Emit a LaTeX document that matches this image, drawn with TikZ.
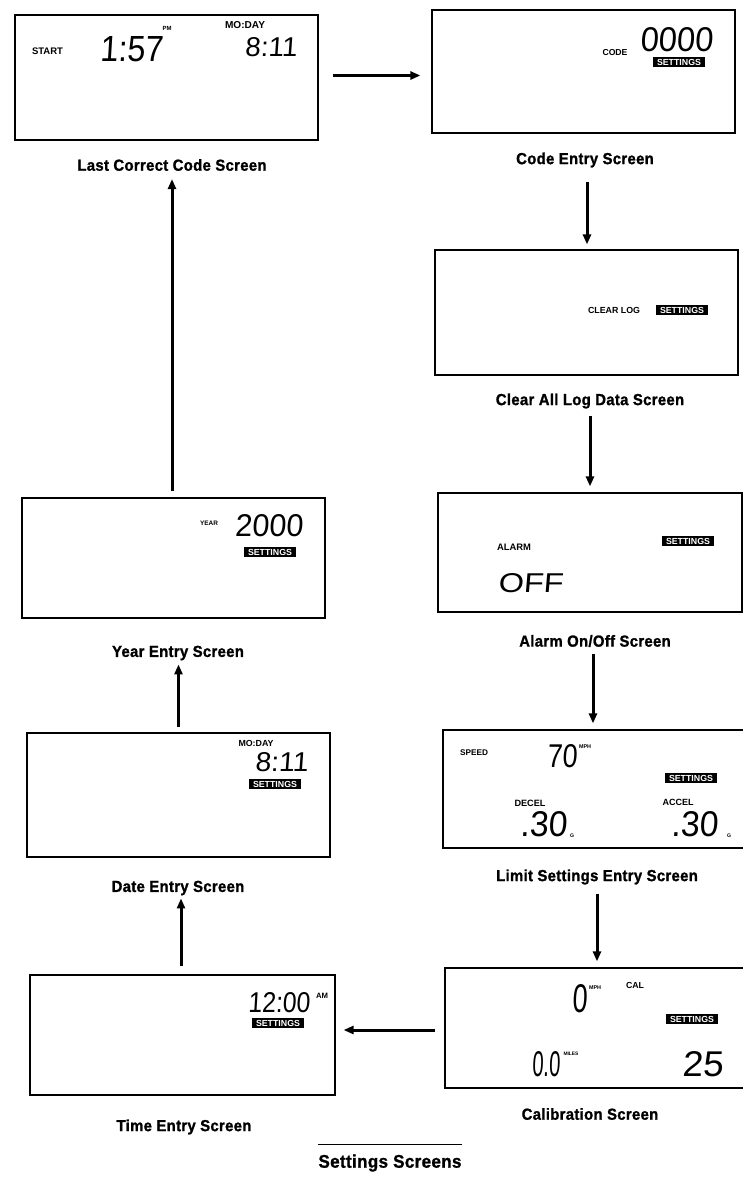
\documentclass[tikz,border=0pt]{standalone}
\usepackage{graphicx}
\usepackage{fontspec}
\setmainfont{Liberation Sans}
\newfontfamily\capfont[FakeStretch=0.93,FakeBold=1.2,LetterSpace=2]{Liberation Sans}
\newfontfamily\lcdfont[FakeSlant=0.07]{Liberation Sans}
\usetikzlibrary{arrows.meta}
\newcommand{\lcdtxt}[3]{\resizebox{#1pt}{#2pt}{\lcdfont #3}}
\newcommand{\smtxt}[2]{\resizebox{#1pt}{!}{\bfseries #2}}
\tikzset{
  screen/.style={draw, line width=1.2pt, rectangle, inner sep=0pt},
  capt/.style={inner sep=0pt, font=\capfont\bfseries\fontsize{16}{16}\selectfont},
  lcd/.style={inner sep=0pt},
  lbl/.style={inner sep=0pt},
  setb/.style={fill=black, text=white, inner xsep=4pt, inner ysep=1.5pt},
  arr/.style={line width=3pt, -{Triangle[length=10pt,width=8pt]}}
}
\begin{document}
\begin{tikzpicture}[x=1pt,y=-1pt]
\useasboundingbox (0,0) rectangle (743,1178);
% screens
\node[screen, minimum width=303pt, minimum height=125pt] (b1) at (166.5,77.5) {};
\node[screen, minimum width=303pt, minimum height=123pt] (b2) at (583.5,71.5) {};
\node[screen, minimum width=303pt, minimum height=125pt] (b3) at (586.5,312.5) {};
\node[screen, minimum width=304pt, minimum height=119pt] (b4) at (590,552.5) {};
\node[screen, minimum width=317pt, minimum height=118pt] (b5) at (601.5,789) {};
\node[screen, minimum width=315pt, minimum height=120pt] (b6) at (602.5,1028) {};
\node[screen, minimum width=303pt, minimum height=120pt] (b7) at (173.5,558) {};
\node[screen, minimum width=303pt, minimum height=124pt] (b8) at (178.5,795) {};
\node[screen, minimum width=305pt, minimum height=120pt] (b9) at (182.5,1035) {};
% captions
\node[capt] (c1) at (172,165) {Last Correct Code Screen};
\node[capt] (c2) at (585,160) {Code Entry Screen};
\node[capt] (c3) at (590,401) {Clear All Log Data Screen};
\node[capt] (c4) at (595,641) {Alarm On/Off Screen};
\node[capt] (c5) at (597,877) {Limit Settings Entry Screen};
\node[capt] (c6) at (590,1114) {Calibration Screen};
\node[capt] (c7) at (178,653) {Year Entry Screen};
\node[capt] (c8) at (178,888) {Date Entry Screen};
\node[capt] (c9) at (184,1127) {Time Entry Screen};
\node[capt] (title) at (390,1163) {\resizebox{143pt}{!}{Settings Screens}};
\draw[line width=1.4pt] ([yshift=10pt]title.north west) -- ([yshift=10pt]title.north east);
% screen 1
\node[lbl] (s1a) at (47.5,51) {\smtxt{31}{START}};
\node[lcd] (s1b) at (131.5,49.5) {\lcdtxt{63}{25}{1:57}};
\node[lbl] (s1c) at (167,28) {\smtxt{9}{PM}};
\node[lbl] (s1d) at (245,25) {\smtxt{40}{MO:DAY}};
\node[lcd] (s1e) at (271,47.5) {\lcdtxt{52}{19}{8:11}};
% screen 2
\node[lbl] (s2a) at (615,53) {\smtxt{25}{CODE}};
\node[lcd] (s2b) at (676.5,39.5) {\lcdtxt{73}{24}{0000}};
\node[setb] (s2c) at (679,62) {\smtxt{44}{SETTINGS}};
% screen 3
\node[lbl] (s3a) at (614,310) {\smtxt{52}{CLEAR LOG}};
\node[setb] (s3b) at (682,310) {\smtxt{44}{SETTINGS}};
% screen 4
\node[lbl] (s4a) at (514,547) {\smtxt{34}{ALARM}};
\node[setb] (s4b) at (688,541) {\smtxt{44}{SETTINGS}};
\node[lcd] (s4c) at (530.5,583.5) {\lcdtxt{65}{19}{OFF}};
% screen 5
\node[lbl] (s5a) at (474,753) {\smtxt{28}{SPEED}};
\node[lcd] (s5b) at (562,756.5) {\lcdtxt{30}{23}{70}};
\node[lbl] (s5c) at (585,747) {\smtxt{12}{MPH}};
\node[setb] (s5d) at (691,778) {\smtxt{44}{SETTINGS}};
\node[lbl] (s5e) at (530,803) {\smtxt{31}{DECEL}};
\node[lcd] (s5f) at (543.5,824.5) {\lcdtxt{47}{25}{.30}};
\node[lbl] (s5g) at (572,836) {\smtxt{4}{G}};
\node[lbl] (s5h) at (678,802) {\smtxt{31}{ACCEL}};
\node[lcd] (s5i) at (694.5,824.5) {\lcdtxt{47}{25}{.30}};
\node[lbl] (s5j) at (729,836) {\smtxt{4}{G}};
% screen 6
\node[lcd] (s6a) at (580,999) {\lcdtxt{15}{28}{0}};
\node[lbl] (s6b) at (595,988) {\smtxt{12}{MPH}};
\node[lbl] (s6c) at (635,985) {\smtxt{18}{CAL}};
\node[setb] (s6d) at (692,1019) {\smtxt{44}{SETTINGS}};
\node[lcd] (s6e) at (546,1064.5) {\lcdtxt{28}{25}{0.0}};
\node[lbl] (s6f) at (571,1054) {\smtxt{15}{MILES}};
\node[lcd] (s6g) at (702.5,1064.5) {\lcdtxt{41}{25}{25}};
% screen 7
\node[lbl] (s7a) at (209,523) {\smtxt{18}{YEAR}};
\node[lcd] (s7b) at (269,526) {\lcdtxt{68}{22}{2000}};
\node[setb] (s7c) at (270,552) {\smtxt{44}{SETTINGS}};
% screen 8
\node[lbl] (s8a) at (256,743) {\smtxt{35}{MO:DAY}};
\node[lcd] (s8b) at (281.5,762.5) {\lcdtxt{53}{19}{8:11}};
\node[setb] (s8c) at (275,784) {\smtxt{44}{SETTINGS}};
% screen 9
\node[lcd] (s9a) at (279,1003) {\lcdtxt{62}{20}{12:00}};
\node[lbl] (s9b) at (322,996) {\smtxt{12}{AM}};
\node[setb] (s9c) at (278,1023) {\smtxt{44}{SETTINGS}};
% arrows
\draw[arr, shorten <=14pt, shorten >=11pt] ([yshift=2pt]b1.east) -- ([yshift=2pt]b1.east -| b2.west);
\draw[arr, shorten <=14pt, shorten >=5pt] ([xshift=2pt]c2.south) -- ([xshift=2pt]c2.south |- b3.north);
\draw[arr, shorten <=7pt, shorten >=6pt] (c3.south) -- (c3.south |- b4.north);
\draw[arr, shorten <=7pt, shorten >=6pt] ([xshift=-2pt]c4.south) -- ([xshift=-2pt]c4.south |- b5.north);
\draw[arr, shorten <=9pt, shorten >=6pt] (c5.south) -- (c5.south |- b6.north);
\draw[arr, shorten <=9pt, shorten >=8pt] ([yshift=-2pt]b6.west) -- ([yshift=-2pt]b6.west -| b9.east);
\draw[arr, shorten <=8pt, shorten >=3pt] ([xshift=-1.5pt]b9.north) -- ([xshift=-1.5pt]b9.north |- c8.south);
\draw[arr, shorten <=5pt, shorten >=4pt] (b8.north) -- (b8.north |- c7.south);
\draw[arr, shorten <=6pt, shorten >=8pt] ([xshift=-1.5pt]b7.north) -- ([xshift=-1.5pt]b7.north |- c1.south);
\end{tikzpicture}
\end{document}
